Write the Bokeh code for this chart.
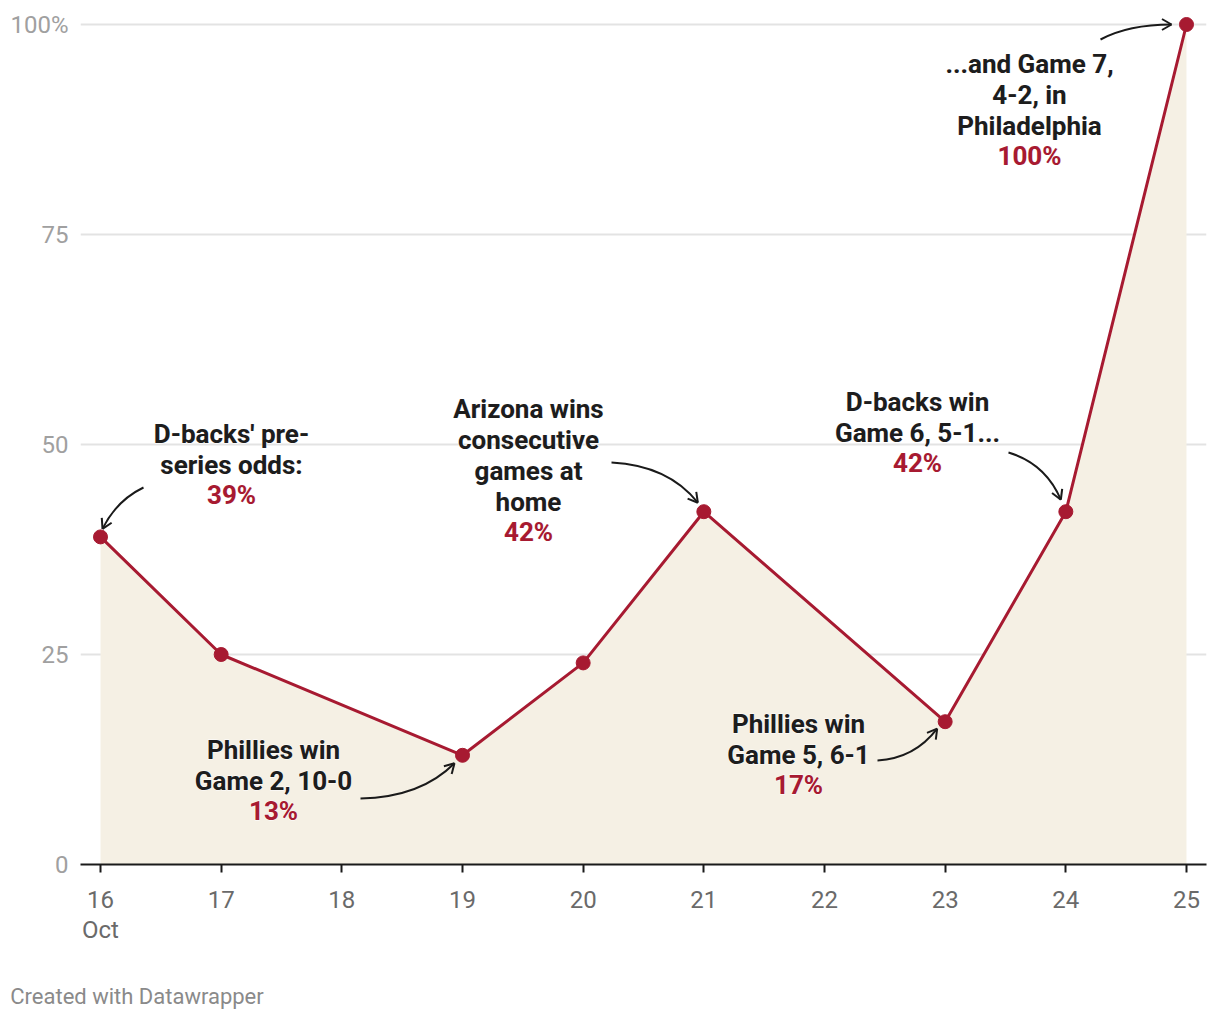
import math
from bokeh.plotting import figure
from bokeh.models import ColumnDataSource, Range1d, FixedTicker, LinearAxis
from bokeh.core.properties import value
from bokeh.embed import file_html
from bokeh.resources import INLINE

# ---------------- data ----------------
days = [16, 17, 19, 20, 21, 23, 24, 25]
odds = [39, 25, 13, 24, 42, 17, 42, 100]
x_ticks = [16, 17, 18, 19, 20, 21, 22, 23, 24, 25]
y_ticks = [0, 25, 50, 75, 100]
y_tick_labels = {0: "0", 25: "25", 50: "50", 75: "75", 100: "100%"}
month_label = "Oct"
credit = "Created with Datawrapper"

ann_points = [0, 2, 4, 5, 6, 7]
ann_lines = [
    ["D-backs' pre-", "series odds:"],
    ["Phillies win", "Game 2, 10-0"],
    ["Arizona wins", "consecutive", "games at", "home"],
    ["Phillies win", "Game 5, 6-1"],
    ["D-backs win", "Game 6, 5-1..."],
    ["...and Game 7,", "4-2, in", "Philadelphia"],
]
ann_pct = ["39%", "13%", "42%", "17%", "42%", "100%"]

# ---------------- layout (image pixels) ----------------
W, H = 1212, 1012
BL, BR, BT, BB = 80, 6, 14, 148
FRAME_L = BL
FRAME_B = H - BB
PPD = (1186 - 100) / 9.0  # px per day
PPU = 840 / 100.0         # px per percent
x0 = 16 - (100 - FRAME_L) / PPD
x1 = x0 + (W - BL - BR) / PPD
y0 = 0
y1 = (H - BT - BB) / PPU

def dx(px):
    return x0 + (px - FRAME_L) / PPD

def dy(py):
    return (FRAME_B - py) / PPU

def px_of(xd):
    return FRAME_L + (xd - x0) * PPD

def py_of(yd):
    return FRAME_B - yd * PPU

# text anchors (px): center x, first line y
ann_text_pos = [(231, 433), (273, 749), (528, 408), (798, 723), (917, 401), (1029, 63)]
LINE_H = 31.2
ann_arrow_start = [(143, 487), (360, 798), (611, 462), (877, 760), (1008, 452), (1100, 39)]
ann_arrow_ctrl = [(116, 500), (420, 797), (668, 465), (914, 758), (1045, 463), (1128, 24)]
ann_arrow_off = [(2, -8), (-8, 8), (-6, -9), (-8, 7), (-5, -12), (-15, 0)]

RED = "#a71a31"
FILL = "#f5f0e4"
FONT = "Roboto"

p = figure(width=W, height=H, output_backend="svg", toolbar_location=None,
           x_range=Range1d(x0, x1), y_range=Range1d(y0, y1),
           min_border_left=BL, min_border_right=BR, min_border_top=BT,
           min_border_bottom=BB, outline_line_color=None,
           background_fill_color="white", border_fill_color="white")

# grid
p.xgrid.grid_line_color = None
p.ygrid.ticker = FixedTicker(ticks=y_ticks[1:])
p.ygrid.grid_line_color = "#e3e3e3"
p.ygrid.grid_line_width = 2

# y axis
ya = p.yaxis[0]
ya.ticker = FixedTicker(ticks=y_ticks)
ya.major_label_overrides = y_tick_labels
ya.axis_line_color = None
ya.major_tick_line_color = None
ya.minor_tick_line_color = None
ya.major_tick_out = 0
ya.major_tick_in = 0
ya.major_label_standoff = 12
ya.major_label_text_font = FONT
ya.major_label_text_font_size = "24px"
ya.major_label_text_color = "#a0a0a0"

# x axis
xa = p.xaxis[0]
xa.ticker = FixedTicker(ticks=x_ticks)
xa.axis_line_color = "#1a1a1a"
xa.axis_line_width = 2
xa.major_tick_line_color = "#1a1a1a"
xa.major_tick_line_width = 2
xa.major_tick_out = 8
xa.major_tick_in = 0
xa.minor_tick_line_color = None
xa.major_label_standoff = 18
xa.major_label_text_font = FONT
xa.major_label_text_font_size = "24px"
xa.major_label_text_color = "#6a6a6a"

def text_axis(tick, label, standoff, size, color):
    return LinearAxis(ticker=FixedTicker(ticks=[tick]),
                      major_label_overrides={tick: label},
                      axis_line_color=None, major_tick_line_color=None,
                      minor_tick_line_color=None, major_tick_out=0, major_tick_in=0,
                      major_label_standoff=standoff, major_label_text_font=FONT,
                      major_label_text_font_size=size, major_label_text_color=color)

# month label under the first day, then the credit line
p.add_layout(text_axis(days[0], month_label, 5, "24px", "#6a6a6a"), "below")
p.add_layout(text_axis(dx(136.5), credit, 37, "22px", "#8a8a8a"), "below")

src = ColumnDataSource(dict(day=days, odds=odds, zero=[0] * len(days)))
p.varea(x="day", y1="zero", y2="odds", source=src, fill_color=FILL)
p.line(x="day", y="odds", source=src, line_color=RED, line_width=3)
p.scatter(x="day", y="odds", source=src, size=14, fill_color=RED, line_color=RED)

# arrows
for i, idx in enumerate(ann_points):
    ex = px_of(days[idx]) + ann_arrow_off[i][0]
    ey = py_of(odds[idx]) + ann_arrow_off[i][1]
    sx, sy = ann_arrow_start[i]
    cx, cy = ann_arrow_ctrl[i]
    p.quadratic(x0=[dx(sx)], y0=[dy(sy)], x1=[dx(ex)], y1=[dy(ey)],
                cx=[dx(cx)], cy=[dy(cy)], line_color="#1a1a1a", line_width=2)
    ang = math.atan2(ey - cy, ex - cx)
    hx, hy = [], []
    for d in (math.radians(150), math.radians(-150)):
        a = ang + d
        hx.append([dx(ex), dx(ex + 11 * math.cos(a))])
        hy.append([dy(ey), dy(ey + 11 * math.sin(a))])
    p.multi_line(xs=hx, ys=hy, line_color="#1a1a1a", line_width=2)

# annotation texts
tx, ty, tt, px_, py_, pt = [], [], [], [], [], []
for i in range(len(ann_points)):
    cxp, cyp = ann_text_pos[i]
    for j, ln in enumerate(ann_lines[i]):
        tx.append(dx(cxp)); ty.append(dy(cyp + j * LINE_H)); tt.append(ln)
    px_.append(dx(cxp)); py_.append(dy(cyp + len(ann_lines[i]) * LINE_H - 1)); pt.append(ann_pct[i])

p.text(x=tx, y=ty, text=tt, text_align="center", text_baseline="middle",
       text_font=value(FONT), text_font_style="bold", text_font_size="26px",
       text_color="#1d1d1d", text_outline_color="white")
p.text(x=tx, y=ty, text=tt, text_align="center", text_baseline="middle",
       text_font=value(FONT), text_font_style="bold", text_font_size="26px",
       text_color="#1d1d1d")
p.text(x=px_, y=py_, text=pt, text_align="center", text_baseline="middle",
       text_font=value(FONT), text_font_style="bold", text_font_size="26px",
       text_color=RED, text_outline_color="white")
p.text(x=px_, y=py_, text=pt, text_align="center", text_baseline="middle",
       text_font=value(FONT), text_font_style="bold", text_font_size="26px",
       text_color=RED)

open("out.html", "w").write(file_html(p, INLINE))
